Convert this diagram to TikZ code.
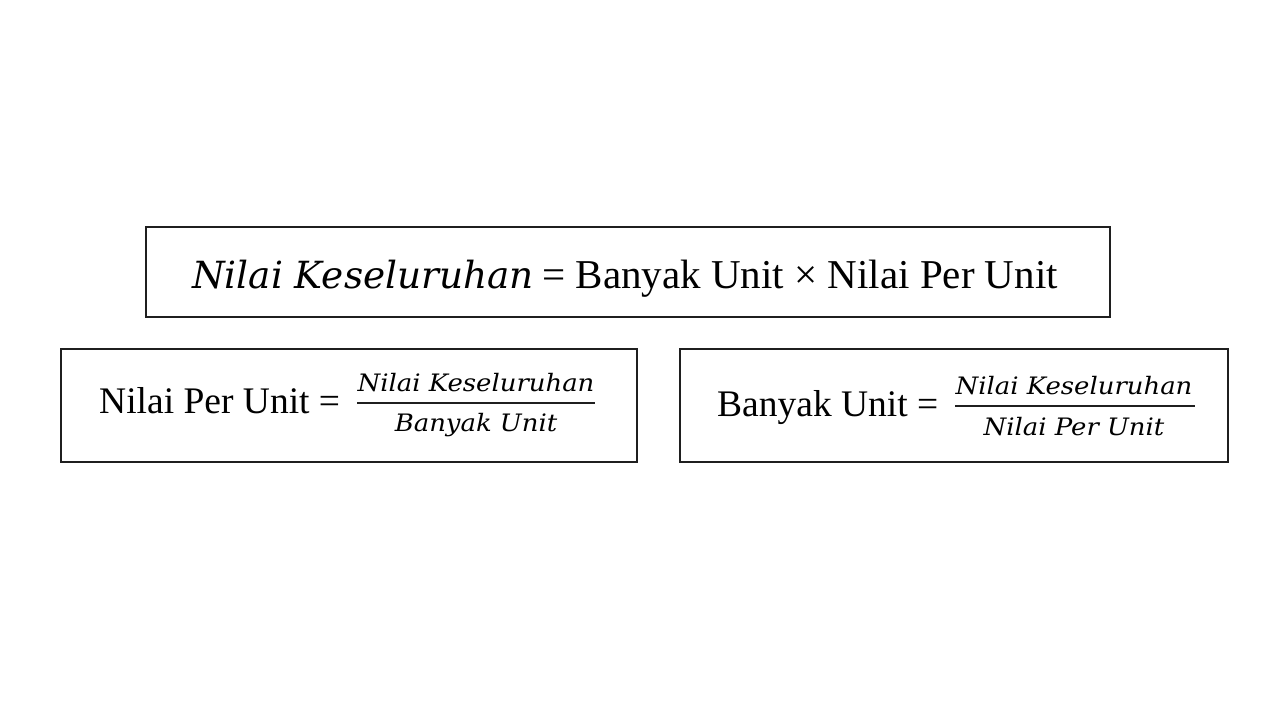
\documentclass[tikz,border=0pt]{standalone}
\usepackage{fontspec}
\setmainfont{Liberation Serif}
\newfontfamily\mitfont{DejaVu Serif}
\newfontfamily\mitfontw{DejaVu Serif}[FakeStretch=1.08]
\begin{document}
\begin{tikzpicture}[x=1pt,y=-1pt,
  boxline/.style={draw=black!88,line width=1.6pt},
  big/.style={inner sep=0pt,font=\fontsize{41}{48}\selectfont},
  mid/.style={inner sep=0pt,font=\fontsize{37.5}{45}\selectfont},
  bigit/.style={inner sep=0pt,font=\mitfont\itshape\fontsize{37.4}{44}\selectfont},
  smallit/.style={inner sep=0pt,font=\mitfontw\itshape\fontsize{24}{29}\selectfont},
  barline/.style={draw=black!88,line width=1.4pt}]
\useasboundingbox (0,0) rectangle (1280,720);
\fill[white] (0,0) rectangle (1280,720);
% boxes
\draw[boxline] (146,227) rectangle (1110,317);
\draw[boxline] (61,349) rectangle (637,462);
\draw[boxline] (680,349) rectangle (1228,462);
% top formula
\node[bigit,anchor=base west] (tl) at (192,288) {Nilai Keseluruhan};
\node[big,anchor=base east] (tr) at (1058,288) {= Banyak Unit × Nilai Per Unit};
% left formula
\node[mid,anchor=base west] (ll) at (99,413) {Nilai Per Unit =};
\coordinate (lb1) at (357,403);
\coordinate (lb2) at (595,403);
\draw[barline] (lb1) -- (lb2);
\node[smallit,anchor=base] (ln) at (476,391) {Nilai Keseluruhan};
\node[smallit,anchor=base] (ld) at (476,431) {Banyak Unit};
% right formula
\node[mid,anchor=base west] (rl) at (717,416) {Banyak Unit =};
\coordinate (rb1) at (955,406);
\coordinate (rb2) at (1195,406);
\draw[barline] (rb1) -- (rb2);
\node[smallit,anchor=base] (rn) at (1074,394) {Nilai Keseluruhan};
\node[smallit,anchor=base] (rd) at (1074,435) {Nilai Per Unit};
\end{tikzpicture}
\end{document}
